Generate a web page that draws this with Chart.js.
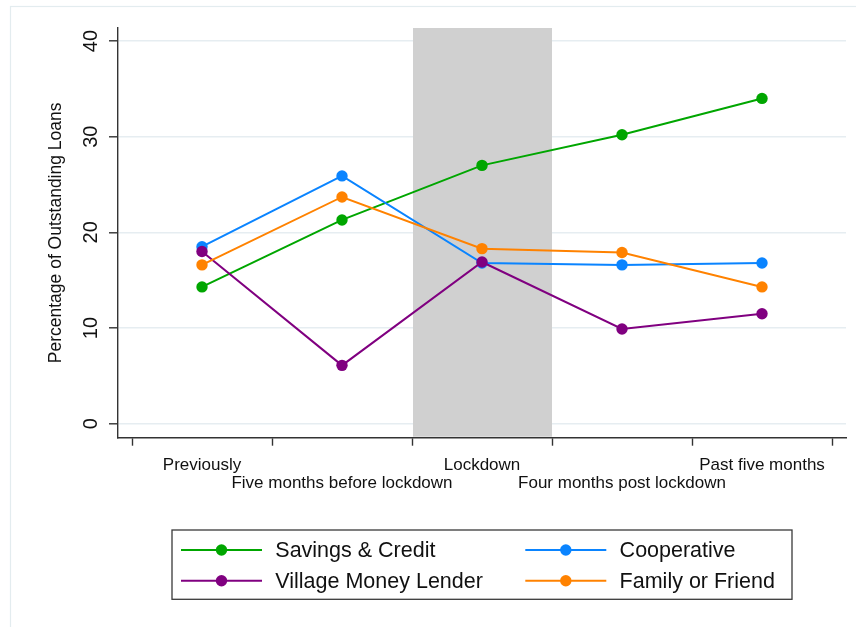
<!DOCTYPE html>
<html>
<head>
<meta charset="utf-8">
<script src="https://cdn.jsdelivr.net/npm/chart.js@4/dist/chart.umd.min.js"></script>
<style>
  html, body { margin: 0; padding: 0; background: #fff; }
  #wrap { width: 856px; height: 627px; }
</style>
</head>
<body>
<div id="wrap"><canvas id="c" width="856" height="627"></canvas></div>
<script>
// Survey periods (x categories) and loan source series (% of outstanding loans)
const periods = ["Previously", "Five months before lockdown", "Lockdown", "Four months post lockdown", "Past five months"];
const seriesNames = ["Savings & Credit", "Cooperative", "Village Money Lender", "Family or Friend"];
const savingsCredit = [14.3, 21.3, 27.0, 30.2, 34.0];
const cooperative   = [18.5, 25.9, 16.8, 16.6, 16.8];
const villageLender = [18.0, 6.1, 16.9, 9.9, 11.5];
const familyFriend  = [16.6, 23.7, 18.3, 17.9, 14.3];
const yTicks = [0, 10, 20, 30, 40];
// lockdown period band, in period units (period i sits at x = i + 1)
const lockdownSpan = [2.5, 3.5];

const FONT = "'Liberation Sans', Arial, Helvetica, sans-serif";
const colors = ["#00a600", "#0a84ff", "#800080", "#ff8200"];
const seriesValues = [savingsCredit, cooperative, villageLender, familyFriend];
const drawOrder = [4, 3, 2, 1];

const datasets = seriesValues.map((vals, k) => ({
  label: seriesNames[k],
  data: vals.map((v, i) => ({ x: i + 1, y: v })),
  borderColor: colors[k],
  backgroundColor: colors[k],
  pointBackgroundColor: colors[k],
  pointBorderWidth: 0,
  pointRadius: 5.7,
  pointHoverRadius: 5.7,
  borderWidth: 2,
  tension: 0,
  order: drawOrder[k]
}));

// light outer frame of the graph region
const framePlugin = {
  id: 'frame',
  beforeDraw(chart) {
    const ctx = chart.ctx;
    ctx.save();
    ctx.fillStyle = '#fff';
    ctx.fillRect(0, 0, chart.width, chart.height);
    ctx.strokeStyle = '#e3ecef';
    ctx.lineWidth = 1.2;
    ctx.strokeRect(10.5, 6.5, chart.width + 20, chart.height + 20);
    ctx.restore();
  }
};

// grey band marking the lockdown period
const lockdownBand = {
  id: 'lockdownBand',
  beforeDatasetsDraw(chart) {
    const { ctx, chartArea, scales } = chart;
    const x0 = scales.x.getPixelForValue(lockdownSpan[0]);
    const x1 = scales.x.getPixelForValue(lockdownSpan[1]);
    ctx.save();
    ctx.fillStyle = '#d0d0d0';
    ctx.fillRect(x0 + 1, chartArea.top, x1 - x0 - 1, chartArea.bottom - chartArea.top - 1);
    ctx.restore();
  }
};

// boxed two-column legend with line + marker keys
const boxLegend = {
  id: 'boxLegend',
  afterDraw(chart) {
    const { ctx, chartArea } = chart;
    const cx = (chartArea.left + chartArea.right) / 2;
    const w = 620, h = 69.3;
    const left = cx - w / 2, top = chartArea.bottom + 92.3;
    ctx.save();
    ctx.strokeStyle = '#3a3a3a';
    ctx.lineWidth = 1.3;
    ctx.strokeRect(left, top, w, h);
    ctx.font = '21.5px ' + FONT;
    ctx.textBaseline = 'alphabetic';
    ctx.textAlign = 'left';
    chart.data.datasets.forEach((ds, k) => {
      const col = k % 2, row = Math.floor(k / 2);
      const yc = top + 20 + row * 30.7;
      const lx = left + (col === 0 ? 9 : 353.3);
      ctx.strokeStyle = ds.borderColor;
      ctx.lineWidth = 2;
      ctx.beginPath();
      ctx.moveTo(lx, yc);
      ctx.lineTo(lx + 81, yc);
      ctx.stroke();
      ctx.fillStyle = ds.borderColor;
      ctx.beginPath();
      ctx.arc(lx + 40.5, yc, 5.7, 0, Math.PI * 2);
      ctx.fill();
      ctx.fillStyle = '#111';
      ctx.fillText(ds.label, lx + 94.3, yc + 7.3);
    });
    ctx.restore();
  }
};

new Chart(document.getElementById('c'), {
  type: 'line',
  data: { datasets },
  options: {
    responsive: false,
    animation: false,
    devicePixelRatio: 1,
    layout: { padding: { left: 0, right: 10, top: 28, bottom: 0 } },
    plugins: { legend: { display: false }, tooltip: { enabled: false } },
    scales: {
      x: {
        type: 'linear',
        min: 0.4,
        max: 5.6,
        afterFit(s) { s.height = 627 - 437.7; },
        afterBuildTicks(s) {
          const t = [];
          for (let v = 0.5; v <= 5.5 + 1e-9; v += 0.5) t.push({ value: v });
          s.ticks = t;
        },
        border: { display: true, color: '#333', width: 1.4 },
        grid: {
          drawOnChartArea: false,
          drawTicks: true,
          tickLength: 8,
          tickWidth: 1.4,
          tickColor: (c) => (c.tick && Number.isInteger(c.tick.value)) ? 'rgba(0,0,0,0)' : '#333'
        },
        ticks: {
          autoSkip: false,
          minRotation: 0,
          maxRotation: 0,
          padding: 11.4,
          color: '#111',
          font: { family: FONT, size: 17, lineHeight: 1.02 },
          callback(v) {
            if (!Number.isInteger(v)) return '';
            const i = v - 1;
            const name = periods[i];
            return i % 2 === 0 ? [name, ''] : ['', name];
          }
        }
      },
      y: {
        min: -1.46,
        max: 41.36,
        afterFit(s) { s.width = 118; },
        afterBuildTicks(s) { s.ticks = yTicks.map(v => ({ value: v })); },
        border: { display: true, color: '#333', width: 1.4 },
        grid: {
          color: '#e6edf1',
          lineWidth: 1.6,
          drawTicks: true,
          tickLength: 9,
          tickWidth: 1.4,
          tickColor: '#333'
        },
        ticks: {
          minRotation: 90,
          maxRotation: 90,
          crossAlign: 'center',
          padding: 6,
          color: '#111',
          font: { family: FONT, size: 20 }
        },
        title: {
          display: true,
          text: 'Percentage of Outstanding Loans',
          color: '#111',
          font: { family: FONT, size: 17.5 },
          padding: { top: 45.6, bottom: 0 }
        }
      }
    }
  },
  plugins: [framePlugin, lockdownBand, boxLegend]
});
</script>
</body>
</html>
